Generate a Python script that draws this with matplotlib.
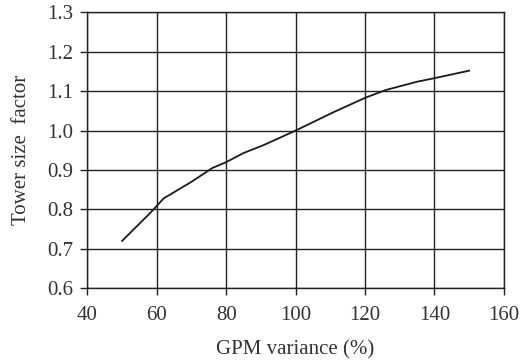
from matplotlib import pyplot as plt

gpm_variance = [50, 58, 62, 70, 76, 80, 85, 91, 100, 111, 120, 126, 135, 140, 150]
tower_factor = [0.72, 0.79, 0.828, 0.87, 0.905, 0.92, 0.943, 0.964, 1.0,
                1.047, 1.083, 1.103, 1.124, 1.133, 1.152]

x_ticks = [40, 60, 80, 100, 120, 140, 160]
y_ticks = [0.6, 0.7, 0.8, 0.9, 1.0, 1.1, 1.2, 1.3]

plt.rcParams['font.family'] = ['Liberation Serif', 'DejaVu Serif']

fig = plt.figure(figsize=(5.2, 3.63), dpi=100)
ax = fig.add_axes([0.168, 0.206, 0.801, 0.76])
ax.plot(gpm_variance, tower_factor, color='#1a1a1a', linewidth=1.3)

ax.set_xlim(40, 160)
ax.set_ylim(0.6, 1.3)
ax.set_xticks(x_ticks)
ax.set_yticks(y_ticks)
ax.set_yticklabels(['{:.1f}'.format(v) for v in y_ticks])
ax.grid(True, color='#222222', linewidth=1.0)
ax.set_axisbelow(True)
for s in ax.spines.values():
    s.set_color('#222222')
    s.set_linewidth(1.0)
ax.tick_params(direction='out', length=5, width=1.0, color='#222222',
               labelsize=15, labelcolor='#333333')
ax.tick_params(axis='x', pad=8)
ax.tick_params(axis='y', pad=5)

ax.set_xlabel('GPM variance (%)', fontsize=15, color='#333333', labelpad=11)
ax.set_ylabel('Tower size  factor', fontsize=15, color='#333333', labelpad=12)

fig.savefig('out.png', dpi=100)
